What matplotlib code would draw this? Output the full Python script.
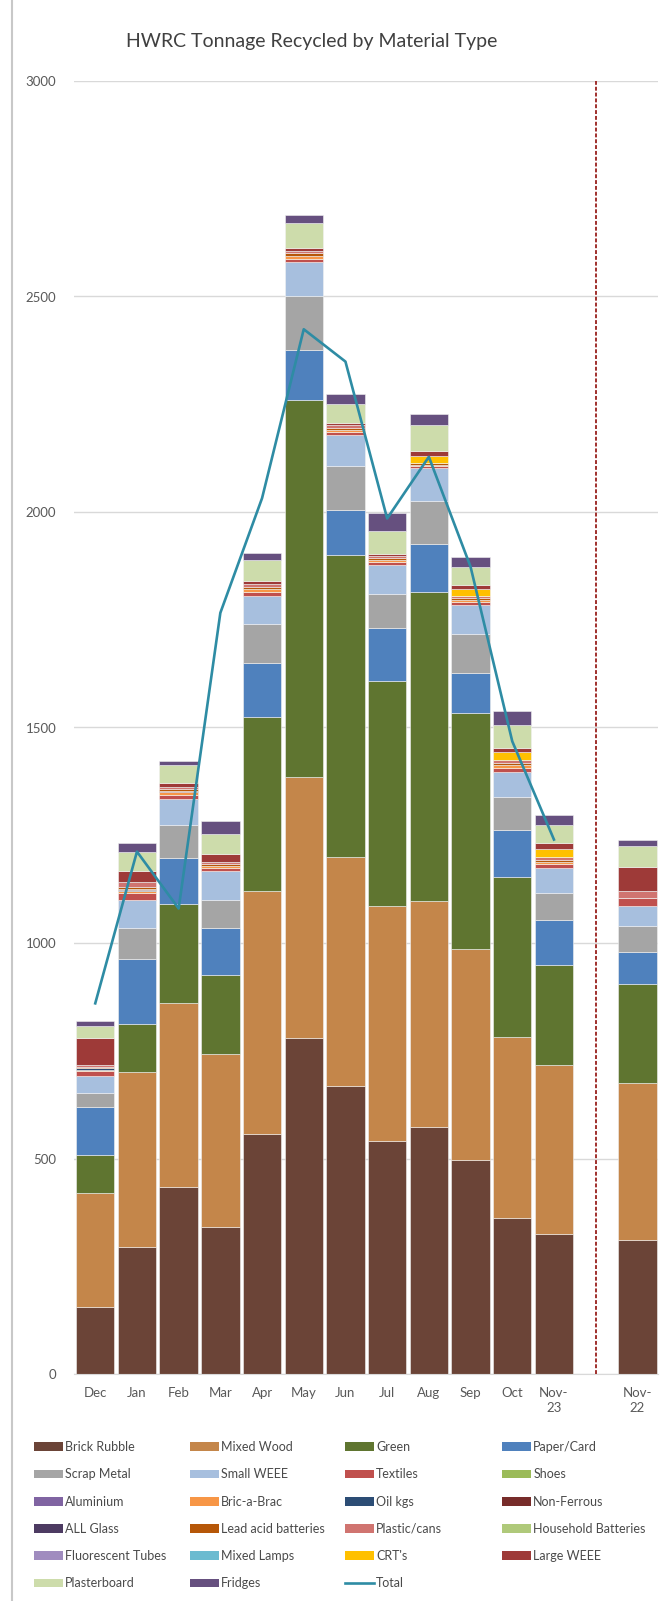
import numpy as np
import matplotlib
matplotlib.use("Agg")
import matplotlib.pyplot as plt
from matplotlib.lines import Line2D
from matplotlib.patches import Patch

plt.rcParams['font.family'] = ['Lato', 'DejaVu Sans']

# categories (Nov-22 sits after an empty slot)
months = ["Dec", "Jan", "Feb", "Mar", "Apr", "May", "Jun", "Jul", "Aug", "Sep", "Oct", "Nov-\n23", "Nov-\n22"]
slots = [0, 1, 2, 3, 4, 5, 6, 7, 8, 9, 10, 11, 13]

# tonnage by material
brick_rubble = [155, 295, 435, 340, 558, 780, 668, 540, 572, 497, 362, 325, 312]
mixed_wood   = [264, 406, 425, 402, 562, 605, 532, 545, 526, 488, 421, 391, 363]
green        = [88, 112, 230, 183, 405, 875, 700, 522, 716, 549, 369, 234, 230]
paper_card   = [112, 150, 107, 110, 125, 116, 105, 123, 111, 93, 110, 104, 74]
scrap_metal  = [32, 72, 76, 65, 90, 125, 102, 79, 101, 89, 76, 61, 60]
small_weee   = [40, 65, 61, 66, 65, 79, 71, 68, 75, 68, 59, 58, 47]
textiles     = [12, 15, 10, 8, 10, 8, 8, 7, 5, 8, 10, 10, 19]
shoes        = [0, 0, 0, 0, 0, 0, 0, 0, 0, 0, 0, 0, 0]
aluminium    = [0, 0, 0, 0, 0, 0, 0, 0, 0, 0, 0, 0, 0]
bric_a_brac  = [3, 5, 6, 5, 6, 6, 5, 5, 3, 4, 5, 5, 0]
oil_kgs      = [3, 2, 0, 0, 0, 0, 0, 0, 0, 0, 0, 0, 0]
non_ferrous  = [0, 3, 2, 0, 0, 0, 0, 0, 0, 0, 0, 0, 0]
all_glass    = [0, 0, 0, 0, 0, 0, 0, 0, 0, 0, 0, 0, 0]
lead_acid    = [3, 6, 5, 4, 5, 6, 5, 4, 4, 4, 5, 5, 0]
plastic_cans = [4, 11, 6, 6, 6, 6, 5, 5, 0, 4, 7, 6, 15]
hh_batteries = [0, 0, 0, 0, 0, 0, 0, 0, 0, 0, 0, 0, 0]
fluor_tubes  = [0, 0, 0, 0, 0, 0, 0, 0, 0, 0, 0, 0, 0]
mixed_lamps  = [0, 0, 0, 0, 0, 0, 0, 0, 0, 0, 0, 0, 0]
crts         = [0, 0, 0, 0, 0, 0, 0, 0, 18, 17, 20, 20, 0]
large_weee   = [64, 24, 9, 17, 8, 6, 6, 5, 10, 10, 8, 12, 57]
plasterboard = [28, 46, 41, 47, 48, 58, 43, 54, 61, 41, 54, 42, 48]
fridges      = [12, 19, 9, 30, 17, 19, 23, 41, 25, 24, 33, 23, 15]

# total line (Dec .. Nov-23)
total = [860, 1212, 1080, 1766, 2032, 2424, 2349, 1985, 2128, 1873, 1468, 1240]

series = [
    ("Brick Rubble", brick_rubble, "#6B4437"),
    ("Mixed Wood", mixed_wood, "#C4864A"),
    ("Green", green, "#5F7530"),
    ("Paper/Card", paper_card, "#4F81BD"),
    ("Scrap Metal", scrap_metal, "#A5A5A5"),
    ("Small WEEE", small_weee, "#A7BFDE"),
    ("Textiles", textiles, "#C0504D"),
    ("Shoes", shoes, "#9BBB59"),
    ("Aluminium", aluminium, "#8064A2"),
    ("Bric-a-Brac", bric_a_brac, "#F79646"),
    ("Oil kgs", oil_kgs, "#2C4D75"),
    ("Non-Ferrous", non_ferrous, "#772C2A"),
    ("ALL Glass", all_glass, "#4D3B62"),
    ("Lead acid batteries", lead_acid, "#B65708"),
    ("Plastic/cans", plastic_cans, "#D07470"),
    ("Household Batteries", hh_batteries, "#AFC97A"),
    ("Fluorescent Tubes", fluor_tubes, "#A08CBF"),
    ("Mixed Lamps", mixed_lamps, "#6CBBD0"),
    ("CRT's", crts, "#FFC000"),
    ("Large WEEE", large_weee, "#9E3A38"),
    ("Plasterboard", plasterboard, "#CDDCAB"),
    ("Fridges", fridges, "#66507F"),
]

W, H = 667, 1601
fig = plt.figure(figsize=(W / 100, H / 100), dpi=100)
ax = fig.add_axes([74.4 / W, 1 - 1374 / H, 583.8 / W, 1293 / H])

bottom = np.zeros(len(slots))
handles = []
for name, vals, col in series:
    vals = np.array(vals, dtype=float)
    ax.bar(slots, vals, bottom=bottom, width=0.92, color=col,
           edgecolor="#f2f2f2", linewidth=0.4, zorder=2)
    bottom += vals
    handles.append(Patch(facecolor=col, label=name))

line_col = "#2E8CA4"
ax.plot(slots[:12], total, color=line_col, lw=1.9, zorder=4)
handles.append(Line2D([], [], color=line_col, lw=1.9, label="Total"))

# divider between this year and last year
ax.vlines(12, 0, 3000, colors="#A0302D", linestyles=(0, (2, 1)), lw=1.4, zorder=3)

ax.set_xlim(-0.5, 13.5)
ax.set_ylim(0, 3000)
ax.set_yticks(np.arange(0, 3001, 500))
ax.set_xticks(slots)
ax.set_xticklabels(months, va="top", linespacing=1.3)
ax.tick_params(axis="both", length=0, labelsize=9.5, labelcolor="#595959")
ax.tick_params(axis="x", pad=9)
ax.tick_params(axis="y", pad=13)
ax.grid(axis="y", color="#D9D9D9", lw=1, zorder=0)
for s in ["left", "right", "top"]:
    ax.spines[s].set_visible(False)
ax.spines["bottom"].set_color("#D9D9D9")

fig.text(312 / W, 1 - 42 / H, "HWRC Tonnage Recycled by Material Type",
         ha="center", va="center", fontsize=14, color="#404040")

# left border line of the chart object
fig.add_artist(Line2D([12 / W, 12 / W], [0, 1], color="#C8C8C8", lw=1.5))

# legend laid out row by row in four evenly spaced columns
col_x = [34, 190, 345, 502]
for j, x in enumerate(col_x):
    hs = handles[j::4]
    leg = fig.legend(handles=hs, labels=[h.get_label() for h in hs],
                     loc="upper left", bbox_to_anchor=(x / W, 1 - 1441 / H),
                     frameon=False, fontsize=9, handlelength=2.3,
                     handleheight=0.7, handletextpad=0.2, labelspacing=1.22,
                     borderpad=0, borderaxespad=0)
    for t in leg.get_texts():
        t.set_color("#4a4a4a")

fig.savefig("out.png", dpi=100)
